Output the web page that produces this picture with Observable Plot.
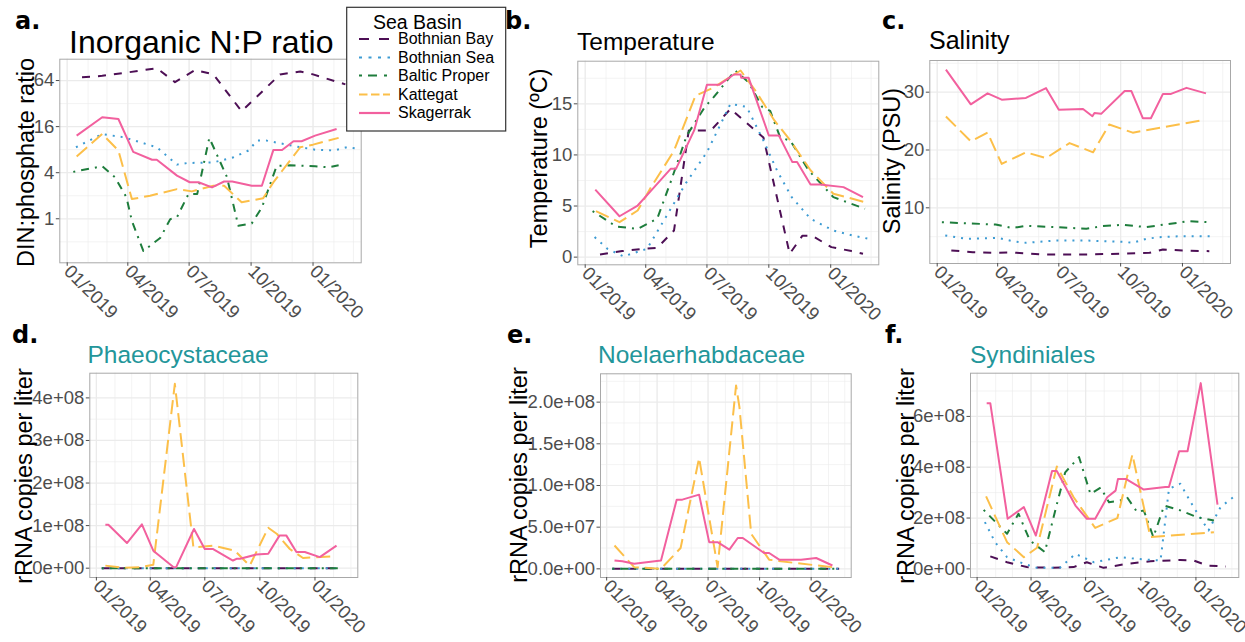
<!DOCTYPE html>
<html>
<head>
<meta charset="utf-8">
<script src="https://cdn.jsdelivr.net/npm/d3@7"></script>
<script src="https://cdn.jsdelivr.net/npm/@observablehq/plot@0.6"></script>
<style>
html,body{margin:0;padding:0;background:#fff;}
#root{position:relative;width:1245px;height:642px;overflow:hidden;background:#fff;font-family:"Liberation Sans",Arial,Helvetica,sans-serif;}
#root svg{position:absolute;}
#root svg.panel text{font-size:18.5px;font-family:"Liberation Sans",Arial,Helvetica,sans-serif;}
</style>
</head>
<body>
<div id="root"></div>
<script>
// ---------- categories ----------
const basins = ["Bothnian Bay", "Bothnian Sea", "Baltic Proper", "Kattegat", "Skagerrak"];
const basinColors = ["#4d0f55", "#3d9bd3", "#1e7d3c", "#fcbf49", "#f2609e"];
const basinDash = ["8,8", "2,6", "2,6,8,6", "14,6", null];

// ---------- tick labels ----------
const dateTickLabels = ["2019-01-01", "2019-04-01", "2019-07-01", "2019-10-01", "2020-01-01"];
const npTicks = [1, 4, 16, 64];
const tempTicks = [0, 5, 10, 15];
const salTicks = [10, 20, 30];
const phaeoTicks = [0, 1e8, 2e8, 3e8, 4e8];
const noelTicks = [0, 0.5e8, 1e8, 1.5e8, 2e8];
const syndTicks = [0, 2e8, 4e8, 6e8];

// ---------- a. Inorganic N:P ratio ----------
const npBothnianBay = [["2019-01-23",70.7],["2019-02-22",73.7],["2019-04-02",82],["2019-05-14",92.7],["2019-06-10",61],["2019-07-10",88],["2019-08-06",77],["2019-09-17",25.4],["2019-11-13",77],["2019-12-13",84],["2020-01-01",77],["2020-02-18",57]];
const npBothnianSea = [["2019-01-14",8.6],["2019-02-22",12.8],["2019-03-26",11.6],["2019-05-14",8.6],["2019-06-13",5.1],["2019-06-28",5.35],["2019-08-06",5.45],["2019-09-05",6.35],["2019-09-27",7.8],["2019-10-10",10.5],["2019-10-24",10.5],["2019-11-18",9.5],["2019-12-13",8.6],["2020-01-04",8.0],["2020-02-01",7.8],["2020-02-20",8.6],["2020-03-04",8.3]];
const npBalticProper = [["2019-01-10",4.1],["2019-02-22",4.86],["2019-03-13",3.48],["2019-03-30",1.9],["2019-04-07",0.94],["2019-04-24",0.38],["2019-05-19",0.56],["2019-06-03",0.99],["2019-06-13",1.05],["2019-06-30",2.1],["2019-07-13",2.1],["2019-07-31",11.4],["2019-08-26",3.55],["2019-09-12",0.81],["2019-10-02",0.87],["2019-10-17",1.4],["2019-11-08",4.9],["2019-11-28",5.0],["2020-01-04",4.85],["2020-01-24",4.7],["2020-02-08",5.0]];
const npKattegat = [["2019-01-15",6.5],["2019-02-22",12.8],["2019-03-18",7.8],["2019-04-07",1.81],["2019-05-04",2.0],["2019-06-13",2.44],["2019-07-05",2.28],["2019-08-06",2.7],["2019-08-22",2.7],["2019-09-17",1.64],["2019-10-19",1.86],["2019-11-03",2.99],["2019-12-13",8.6],["2020-01-01",9.3],["2020-02-08",11.4]];
const npSkagerrak = [["2019-01-15",12.2],["2019-02-22",21.2],["2019-03-18",20.1],["2019-04-09",7.5],["2019-05-07",5.9],["2019-05-14",5.9],["2019-06-13",3.66],["2019-07-02",3.0],["2019-07-15",3.0],["2019-08-04",2.57],["2019-08-22",3.07],["2019-09-03",3.07],["2019-10-02",2.7],["2019-10-17",2.7],["2019-11-03",7.9],["2019-11-16",7.9],["2019-12-03",10.3],["2019-12-15",10.3],["2020-01-04",12.2],["2020-02-05",14.9]];

// ---------- b. Temperature ----------
const tempBothnianBay = [["2019-01-23",0.26],["2019-02-25",0.59],["2019-03-29",0.82],["2019-04-18",0.91],["2019-05-13",2.6],["2019-06-04",12.4],["2019-07-07",12.4],["2019-08-05",14.5],["2019-09-23",11.7],["2019-11-01",0.33],["2019-11-20",2.1],["2019-12-04",2.1],["2020-01-02",0.98],["2020-02-01",0.59],["2020-02-18",0.33]];
const tempBothnianSea = [["2019-01-15",1.96],["2019-02-03",0.82],["2019-02-27",0.07],["2019-04-03",0.82],["2019-04-28",3.59],["2019-05-30",7.17],["2019-07-01",10.27],["2019-08-05",15.0],["2019-08-29",14.7],["2019-09-23",11.4],["2019-10-13",8.5],["2019-11-04",5.87],["2019-12-02",3.75],["2020-01-05",2.6],["2020-02-04",2.1],["2020-03-04",1.7]];
const tempBalticProper = [["2019-01-12",4.5],["2019-02-16",3.0],["2019-03-20",2.77],["2019-04-18",3.75],["2019-05-08",7.34],["2019-06-01",11.9],["2019-06-28",14.7],["2019-07-11",15.65],["2019-08-12",18.26],["2019-09-01",17.1],["2019-09-21",14.7],["2019-10-03",14.3],["2019-10-18",11.7],["2019-11-02",11.4],["2019-11-29",8.5],["2020-01-05",5.87],["2020-02-21",4.73]];
const tempKattegat = [["2019-01-17",4.5],["2019-02-21",3.42],["2019-03-20",4.56],["2019-04-09",6.85],["2019-05-13",10.4],["2019-06-14",15.8],["2019-07-11",16.6],["2019-08-20",18.26],["2019-09-11",16.3],["2019-10-09",13.4],["2019-11-02",11.4],["2019-12-02",8.5],["2020-01-05",6.2],["2020-02-21",5.38]];
const tempSkagerrak = [["2019-01-16",6.6],["2019-02-21",4.0],["2019-03-20",5.05],["2019-04-09",6.5],["2019-05-08",8.64],["2019-05-16",8.64],["2019-06-12",12.4],["2019-07-01",16.86],["2019-07-19",16.86],["2019-08-10",17.87],["2019-08-20",17.87],["2019-08-21",17.54],["2019-09-01",17.54],["2019-10-01",11.9],["2019-10-16",11.9],["2019-11-05",9.3],["2019-11-12",9.3],["2019-12-02",7.1],["2019-12-16",7.1],["2020-01-20",6.85],["2020-02-18",5.87]];

// ---------- c. Salinity ----------
const salBothnianBay = [["2019-01-22",2.62],["2019-02-23",2.33],["2019-03-29",2.22],["2019-04-23",2.28],["2019-06-07",1.93],["2019-08-05",1.93],["2019-10-04",2.05],["2019-11-13",2.22],["2019-12-03",2.8],["2020-01-01",2.62],["2020-02-10",2.5]];
const salBothnianSea = [["2019-01-13",5.22],["2019-02-13",4.64],["2019-04-01",4.81],["2019-04-23",4.24],["2019-05-13",3.95],["2019-06-27",4.35],["2019-08-11",4.35],["2019-09-04",4.24],["2019-10-04",4.12],["2019-10-19",3.95],["2019-11-08",4.64],["2019-11-28",4.93],["2020-01-01",5.1],["2020-02-15",5.1]];
const salBalticProper = [["2019-01-08",7.52],["2019-03-29",7.1],["2019-04-23",6.5],["2019-05-13",6.9],["2019-06-27",6.66],["2019-08-11",6.37],["2019-09-04",6.83],["2019-10-04",7.06],["2019-11-08",6.66],["2020-01-11",7.7],["2020-02-08",7.52]];
const salKattegat = [["2019-01-14",25.8],["2019-02-20",21.5],["2019-03-17",23.0],["2019-04-07",17.6],["2019-05-13",19.6],["2019-06-12",18.6],["2019-07-17",21.2],["2019-08-21",19.6],["2019-09-14",24.4],["2019-10-19",23.0],["2020-02-03",25.2]];
const salSkagerrak = [["2019-01-14",33.9],["2019-02-20",27.9],["2019-03-17",29.8],["2019-04-07",28.7],["2019-05-13",29.0],["2019-06-12",30.7],["2019-07-01",26.95],["2019-08-06",27.1],["2019-08-20",25.85],["2019-08-23",26.4],["2019-09-02",26.25],["2019-10-07",30.2],["2019-10-17",30.2],["2019-11-03",25.5],["2019-11-15",25.5],["2019-12-03",29.7],["2019-12-15",29.7],["2020-01-07",30.75],["2020-02-05",29.8]];

// ---------- d. Phaeocystaceae ----------
const phaeoBothnianBay = [["2019-01-10",0],["2019-02-20",0],["2019-03-20",0],["2019-04-15",0],["2019-05-14",0],["2019-06-13",0],["2019-07-15",0],["2019-08-20",0],["2019-09-16",0],["2019-10-15",0],["2019-11-14",0],["2019-12-12",0],["2020-01-15",0],["2020-02-13",0]];
const phaeoBothnianSea = [["2019-01-10",0],["2019-02-20",0],["2019-03-20",0],["2019-04-15",0],["2019-05-14",0],["2019-06-13",0],["2019-07-15",0],["2019-08-20",0],["2019-09-16",0],["2019-10-15",0],["2019-11-14",0],["2019-12-12",0],["2020-01-15",0],["2020-02-13",0]];
const phaeoBalticProper = [["2019-01-10",0],["2019-02-20",0],["2019-03-20",0],["2019-04-15",0],["2019-05-14",0],["2019-06-13",0],["2019-07-15",0],["2019-08-20",0],["2019-09-16",0],["2019-10-15",0],["2019-11-14",0],["2019-12-12",0],["2020-01-15",0],["2020-02-13",0]];
const phaeoKattegat = [["2019-01-16",0.06e8],["2019-02-15",0.01e8],["2019-03-15",0.02e8],["2019-04-06",0.08e8],["2019-05-12",4.33e8],["2019-06-12",0.49e8],["2019-07-15",0.53e8],["2019-08-20",0.41e8],["2019-09-14",0.06e8],["2019-10-15",0.95e8],["2019-10-29",0.81e8],["2019-11-20",0.45e8],["2019-12-12",0.24e8],["2020-02-01",0.28e8]];
const phaeoSkagerrak = [["2019-01-16",1.02e8],["2019-01-21",1.02e8],["2019-02-21",0.59e8],["2019-03-18",1.03e8],["2019-04-06",0.41e8],["2019-05-10",0.02e8],["2019-05-14",0.02e8],["2019-06-13",0.92e8],["2019-07-01",0.45e8],["2019-07-15",0.45e8],["2019-08-17",0.18e8],["2019-08-23",0.22e8],["2019-08-29",0.22e8],["2019-09-25",0.32e8],["2019-10-15",0.34e8],["2019-11-03",0.77e8],["2019-11-14",0.77e8],["2019-12-01",0.38e8],["2019-12-15",0.38e8],["2020-01-09",0.26e8],["2020-02-06",0.53e8]];

// ---------- e. Noelaerhabdaceae ----------
const noelBothnianBay = [["2019-01-11",0],["2019-02-20",0],["2019-03-20",0],["2019-04-15",0],["2019-05-14",0],["2019-06-13",0],["2019-07-15",0],["2019-08-20",0],["2019-09-16",0],["2019-10-15",0],["2019-11-14",0],["2019-12-12",0],["2020-01-15",0],["2020-02-20",0]];
const noelBothnianSea = [["2019-01-11",0],["2019-02-20",0],["2019-03-20",0],["2019-04-15",0],["2019-05-14",0],["2019-06-13",0],["2019-07-15",0],["2019-08-20",0],["2019-09-16",0],["2019-10-15",0],["2019-11-14",0],["2019-12-12",0],["2020-01-15",0],["2020-02-20",0]];
const noelBalticProper = [["2019-01-11",0],["2019-02-20",0],["2019-03-20",0],["2019-04-15",0],["2019-05-14",0],["2019-06-13",0],["2019-07-15",0],["2019-08-20",0],["2019-09-16",0],["2019-10-15",0],["2019-11-14",0],["2019-12-12",0],["2020-01-15",0],["2020-02-20",0]];
const noelKattegat = [["2019-01-15",0.28e8],["2019-02-19",0.02e8],["2019-04-08",0],["2019-05-13",0.25e8],["2019-06-15",1.33e8],["2019-07-18",0.02e8],["2019-08-20",2.2e8],["2019-08-26",1.94e8],["2019-09-16",0.42e8],["2019-10-18",0.11e8],["2019-11-08",0.09e8],["2020-02-08",0.02e8]];
const noelSkagerrak = [["2019-01-15",0.10e8],["2019-01-29",0.09e8],["2019-02-19",0.06e8],["2019-04-08",0.10e8],["2019-05-06",0.83e8],["2019-05-16",0.83e8],["2019-06-15",0.89e8],["2019-07-03",0.32e8],["2019-07-18",0.32e8],["2019-08-08",0.23e8],["2019-08-23",0.37e8],["2019-09-01",0.37e8],["2019-10-09",0.19e8],["2019-10-18",0.19e8],["2019-11-05",0.11e8],["2019-12-14",0.11e8],["2020-01-10",0.13e8],["2020-02-08",0.04e8]];

// ---------- f. Syndiniales ----------
const syndBothnianBay = [["2019-01-23",0.49e8],["2019-02-20",0.26e8],["2019-03-25",0.07e8],["2019-05-06",0.04e8],["2019-06-11",0.07e8],["2019-07-03",0.26e8],["2019-07-31",0.04e8],["2019-09-08",0.2e8],["2019-10-17",0.3e8],["2019-12-06",0.35e8],["2019-12-28",0.33e8],["2020-01-20",0.13e8],["2020-02-20",0.09e8]];
const syndBothnianSea = [["2019-01-14",1.84e8],["2019-01-31",1.05e8],["2019-02-20",0.46e8],["2019-03-20",0.2e8],["2019-04-11",0.04e8],["2019-05-19",0.04e8],["2019-06-14",0.59e8],["2019-07-15",0.26e8],["2019-08-28",0.46e8],["2019-09-25",0.39e8],["2019-11-03",0.33e8],["2019-11-17",3.15e8],["2019-12-06",3.35e8],["2019-12-28",2.43e8],["2020-01-22",1.51e8],["2020-02-11",2.43e8],["2020-03-09",2.93e8]];
const syndBalticProper = [["2019-01-12",2.32e8],["2019-02-20",1.38e8],["2019-03-11",2.17e8],["2019-03-30",1.12e8],["2019-04-24",0.66e8],["2019-05-12",2.36e8],["2019-05-28",3.8e8],["2019-06-20",4.4e8],["2019-07-09",2.95e8],["2019-07-26",3.2e8],["2019-08-09",2.62e8],["2019-08-28",2.69e8],["2019-09-08",2.82e8],["2019-09-25",2.23e8],["2019-10-06",2.3e8],["2019-10-22",1.25e8],["2019-11-09",2.49e8],["2019-12-06",2.3e8],["2020-01-03",2.03e8],["2020-01-31",1.9e8]];
const syndKattegat = [["2019-01-16",2.85e8],["2019-02-20",1.05e8],["2019-03-20",0.46e8],["2019-04-11",0.83e8],["2019-05-14",4.03e8],["2019-06-11",2.82e8],["2019-07-17",1.61e8],["2019-08-23",2.0e8],["2019-09-17",4.5e8],["2019-10-17",1.25e8],["2020-01-31",1.44e8]];
const syndSkagerrak = [["2019-01-17",6.52e8],["2019-01-23",6.52e8],["2019-02-21",1.97e8],["2019-03-20",2.43e8],["2019-04-09",1.31e8],["2019-05-06",3.85e8],["2019-05-14",3.85e8],["2019-06-14",2.49e8],["2019-07-03",1.97e8],["2019-07-17",1.97e8],["2019-08-06",2.82e8],["2019-08-20",3.08e8],["2019-08-24",3.54e8],["2019-09-06",3.54e8],["2019-10-06",3.12e8],["2019-11-11",3.22e8],["2019-11-17",3.22e8],["2019-12-04",4.63e8],["2019-12-18",4.63e8],["2020-01-09",7.31e8],["2020-02-06",2.53e8]];

// ---------- build ----------
const root = document.getElementById("root");
const FONT = "Liberation Sans, Arial, Helvetica, sans-serif";
const xDomain = [new Date("2018-12-21T00:00Z"), new Date("2020-03-12T12:00Z")];
const dateTicks = dateTickLabels.map(d => new Date(d));
const monthLines = d3.utcMonth.range(new Date("2019-01-01"), new Date("2020-03-02"));

function toRows(list) {
  return list.flatMap((s, i) => s.map(([d, v]) => ({basin: basins[i], date: new Date(d), value: v})));
}
function sci(digits) {
  return v => v.toExponential(digits).replace(/e([+-])(\d+)$/, (m, sg, ex) => "e" + sg + ex.padStart(2, "0"));
}

const panels = [
  {box: [0, 0, 390, 330], frame: [59.3, 360.7, 58.7, 262.3], y: {type: "log", base: 2, domain: [0.266, 121.6]}, yTicks: npTicks, yMinor: [0.5, 2, 8, 32], fmt: d => String(d),
   series: [npBothnianBay, npBothnianSea, npBalticProper, npKattegat, npSkagerrak]},
  {box: [490, 0, 400, 330], frame: [577.3, 878.3, 60.7, 264.3], y: {type: "linear", domain: [-0.75, 19.17]}, yTicks: tempTicks, yMinor: [2.5, 7.5, 12.5, 17.5], fmt: d => String(d),
   series: [tempBothnianBay, tempBothnianSea, tempBalticProper, tempKattegat, tempSkagerrak]},
  {box: [860, 0, 385, 330], frame: [929.3, 1230, 60, 263], y: {type: "linear", domain: [0.37, 35.48]}, yTicks: salTicks, yMinor: [5, 15, 25, 35], fmt: d => String(d),
   series: [salBothnianBay, salBothnianSea, salBalticProper, salKattegat, salSkagerrak]},
  {box: [0, 322, 400, 320], frame: [89.3, 357.3, 372.7, 577], y: {type: "linear", domain: [-0.219e8, 4.58e8]}, yTicks: phaeoTicks, yMinor: [0.5e8, 1.5e8, 2.5e8, 3.5e8], fmt: sci(0),
   series: [phaeoBothnianBay, phaeoBothnianSea, phaeoBalticProper, phaeoKattegat, phaeoSkagerrak]},
  {box: [420, 322, 440, 320], frame: [600, 850.7, 373.3, 577], y: {type: "linear", domain: [-0.104e8, 2.34e8]}, yTicks: noelTicks, yMinor: [0.25e8, 0.75e8, 1.25e8, 1.75e8, 2.25e8], fmt: sci(1),
   series: [noelBothnianBay, noelBothnianSea, noelBalticProper, noelKattegat, noelSkagerrak]},
  {box: [860, 322, 385, 320], frame: [970, 1238.3, 372.7, 577], y: {type: "linear", domain: [-0.34e8, 7.7e8]}, yTicks: syndTicks, yMinor: [1e8, 3e8, 5e8, 7e8], fmt: sci(0),
   series: [syndBothnianBay, syndBothnianSea, syndBalticProper, syndKattegat, syndSkagerrak]}
];

for (const p of panels) {
  const [left, top, w, h] = p.box;
  const [fx0, fx1, fy0, fy1] = p.frame;
  const rows = toRows(p.series);
  const svg = Plot.plot({
    width: w, height: h,
    marginLeft: fx0 - left, marginRight: left + w - fx1,
    marginTop: fy0 - top, marginBottom: top + h - fy1,
    style: {background: "transparent", fontFamily: FONT, fontSize: "18.5px", overflow: "visible"},
    x: {type: "utc", domain: xDomain},
    y: p.y,
    color: {domain: basins, range: basinColors},
    marks: [
      Plot.ruleX(monthLines, {stroke: "#ebebeb", strokeWidth: 0.6}),
      Plot.ruleY(p.yMinor, {stroke: "#ebebeb", strokeWidth: 0.6}),
      Plot.ruleX(dateTicks, {stroke: "#ebebeb", strokeWidth: 1.2}),
      Plot.ruleY(p.yTicks, {stroke: "#ebebeb", strokeWidth: 1.2}),
      ...basins.map((b, i) => Plot.line(rows.filter(r => r.basin === b), {
        x: "date", y: "value", stroke: "basin", strokeWidth: 2,
        strokeDasharray: basinDash[i], strokeLinecap: "butt", strokeLinejoin: "round"
      })),
      Plot.frame({stroke: "#a8a8a8", strokeWidth: 1}),
      Plot.axisX({ticks: dateTicks, tickFormat: d3.utcFormat("%m/%Y"), tickRotate: 45, tickSize: 3.5, tickPadding: 2, fontSize: 18.5, color: "#4d4d4d", label: null}),
      Plot.axisY({ticks: p.yTicks, tickFormat: () => "", tickSize: 3.5, color: "#4d4d4d", label: null}),
      Plot.text(p.yTicks, {y: d => d, text: p.fmt, frameAnchor: "left", textAnchor: "end", dx: -5.5, fontSize: 18.5, fill: "#4d4d4d"})
    ]
  });
  svg.classList.add("panel");
  svg.style.left = left + "px";
  svg.style.top = top + "px";
  root.appendChild(svg);
}

// ---------- overlay: letters, titles, axis titles, legend ----------
const ov = d3.create("svg").attr("width", 1245).attr("height", 642)
  .style("left", "0px").style("top", "0px").style("pointer-events", "none")
  .style("font-family", FONT);

const letters = [["a.", 15, 28.5], ["b.", 505, 29.3], ["c.", 882, 28.5], ["d.", 12, 343.3], ["e.", 507, 342.7], ["f.", 885, 343.3]];
for (const [t, x, y] of letters) {
  ov.append("text").attr("x", x).attr("y", y).attr("font-family", "DejaVu Sans").attr("font-weight", "bold").attr("font-size", 24).attr("fill", "#000").text(t);
}
const titles = [["Inorganic N:P ratio", 69, 52.7, 32, "#000"], ["Temperature", 577, 50, 24.5, "#000"], ["Salinity", 929, 49, 25, "#000"],
  ["Phaeocystaceae", 87.5, 363.3, 24.5, "#23969a"], ["Noelaerhabdaceae", 598, 362.7, 24.5, "#23969a"], ["Syndiniales", 970, 363.3, 24.5, "#23969a"]];
for (const [t, x, y, s, c] of titles) {
  ov.append("text").attr("x", x).attr("y", y).attr("font-size", s).attr("fill", c).text(t);
}
const yTitles = [["DIN:phosphate ratio", 33.5, 162.5], ["Temperature (ºC)", 547, 158.3], ["Salinity (PSU)", 899.5, 161],
  ["rRNA copies per liter", 32, 476], ["rRNA copies per liter", 527, 475], ["rRNA copies per liter", 913.7, 476]];
for (const [t, x, y] of yTitles) {
  ov.append("text").attr("transform", `translate(${x},${y}) rotate(-90)`).attr("text-anchor", "middle")
    .attr("font-size", 23.5).attr("fill", "#000").text(t);
}

// legend
const lg = ov.append("g");
lg.append("rect").attr("x", 346.7).attr("y", 7.3).attr("width", 159).attr("height", 123.7).attr("fill", "#fff").attr("stroke", "#333").attr("stroke-width", 1.2);
lg.append("text").attr("x", 373).attr("y", 29).attr("font-size", 19.5).attr("fill", "#000").text("Sea Basin");
const legendDash = ["10,10", "3,6.5", "3,6,9,7", "8.5,3.5", null];
const legendY = [39, 57.5, 75.5, 94.5, 113];
basins.forEach((b, i) => {
  lg.append("line").attr("x1", 359).attr("x2", 390).attr("y1", legendY[i]).attr("y2", legendY[i])
    .attr("stroke", basinColors[i]).attr("stroke-width", 2.2).attr("stroke-dasharray", legendDash[i]);
  lg.append("text").attr("x", 398).attr("y", legendY[i] + 5.3).attr("font-size", 16).attr("fill", "#000").text(b);
});
root.appendChild(ov.node());
</script>
</body>
</html>
